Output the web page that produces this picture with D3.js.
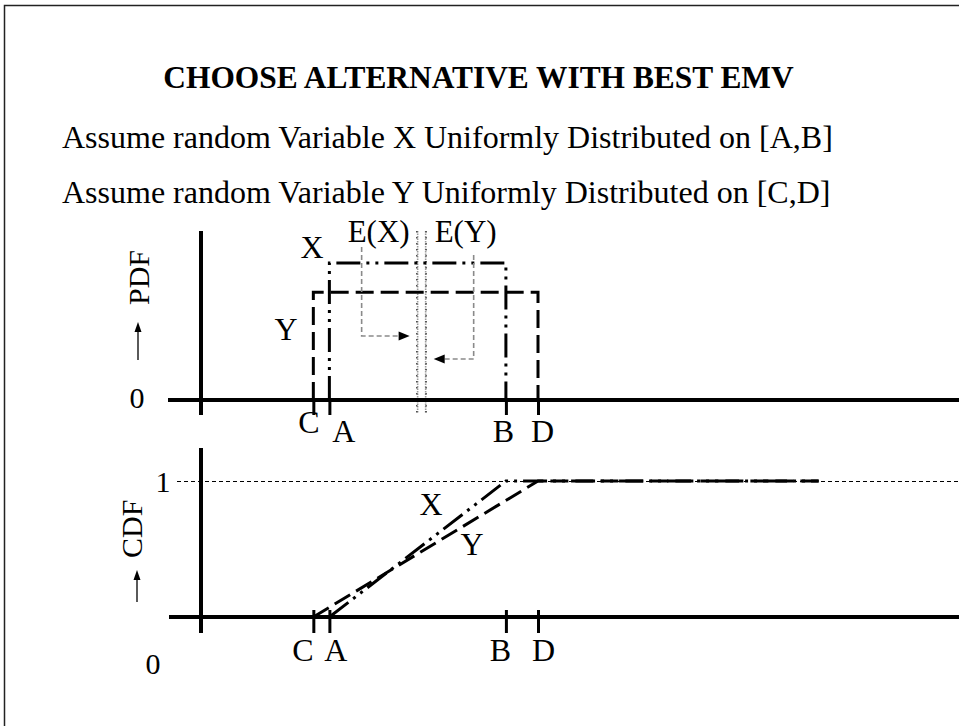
<!DOCTYPE html>
<html>
<head>
<meta charset="utf-8">
<script src="https://cdn.jsdelivr.net/npm/d3@7"></script>
<style>
  html, body { margin: 0; padding: 0; background: #fff; }
  svg { display: block; }
  text { font-family: "Liberation Serif", "Times New Roman", serif; fill: #000; }
</style>
</head>
<body>
<svg id="chart" width="959" height="726"></svg>
<script>
// Uniform alternatives: X on [A,B], Y on [C,D]
const tickNames = ["C", "A", "B", "D"];
const tickValues = [7, 8, 19, 21];
const seriesNames = ["X", "Y"];
const lowerBounds = [8, 7];    // A, C
const upperBounds = [19, 21];  // B, D
const cdfLevels = [0, 1];
const cdfTailEnd = 38.5;       // where the flat CDF tail stops

const titleText = "CHOOSE ALTERNATIVE WITH BEST EMV";
const subtitleLines = [
  "Assume random Variable X Uniformly Distributed on [A,B]",
  "Assume random Variable Y Uniformly Distributed on [C,D]"
];

const W = 959, H = 726;
const svg = d3.select("#chart");

// frame
svg.append("rect")
  .attr("x", 4.5).attr("y", 5.5).attr("width", 1200).attr("height", 1200)
  .attr("fill", "none").attr("stroke", "#222").attr("stroke-width", 1.5);

// heading text
svg.append("text").attr("x", 478.5).attr("y", 88)
  .attr("text-anchor", "middle").attr("font-size", 31.4).attr("font-weight", "bold")
  .text(titleText);
svg.selectAll("text.sub").data(subtitleLines).join("text")
  .attr("class", "sub")
  .attr("x", 62).attr("y", (d, i) => 148 + i * 55)
  .attr("font-size", 32)
  .text(d => d);

// shared horizontal scale
const x = d3.scaleLinear().domain([0, 21]).range([201, 538]);
const axisLeftEnd = x.invert(168);
const axisRightEnd = x.invert(W);

const series = seriesNames.map((name, i) => ({
  name,
  a: lowerBounds[i],
  b: upperBounds[i],
  density: 1 / (upperBounds[i] - lowerBounds[i]),
  mean: (lowerBounds[i] + upperBounds[i]) / 2
}));

const styles = {
  X: { dash: "24,6,3,6,3,6" },
  Y: { dash: "18,7" }
};

// ---------- PDF panel ----------
const yPdf = d3.scaleLinear().domain([0, 0.0909]).range([400, 263]);
const pdf = svg.append("g");

const line = d3.line().x(d => x(d[0])).y(d => d[1]);

// mean markers (E(X), E(Y))
series.forEach((s, i) => {
  const mx = x(s.mean);
  pdf.append("line").attr("x1", mx).attr("x2", mx).attr("y1", 231).attr("y2", 413)
    .attr("stroke", "#9a9a9a").attr("stroke-width", 1.6).attr("stroke-dasharray", "1.5,1");
  pdf.append("line").attr("x1", mx + (i === 0 ? -0.8 : 0.4)).attr("x2", mx + (i === 0 ? -0.8 : 0.4))
    .attr("y1", 231).attr("y2", 413)
    .attr("stroke", "#000").attr("stroke-width", 1).attr("stroke-dasharray", "1.5,4.5");
});

// density rectangles (Y first so X sits on top)
[series[1], series[0]].forEach(s => {
  const pts = [[s.a, yPdf(0)], [s.a, yPdf(s.density)], [s.b, yPdf(s.density)], [s.b, yPdf(0)]];
  pdf.append("path").attr("d", line(pts))
    .attr("fill", "none").attr("stroke", "#000").attr("stroke-width", 3)
    .attr("stroke-dasharray", styles[s.name].dash);
});

// axes of PDF panel
pdf.append("line").attr("x1", x(axisLeftEnd)).attr("x2", x(axisRightEnd))
  .attr("y1", yPdf(0)).attr("y2", yPdf(0)).attr("stroke", "#000").attr("stroke-width", 4);
pdf.append("line").attr("x1", x(0)).attr("x2", x(0))
  .attr("y1", 231).attr("y2", 415).attr("stroke", "#000").attr("stroke-width", 4);

const pdfAxis = pdf.append("g").attr("transform", `translate(0,${yPdf(0)})`)
  .call(d3.axisBottom(x).tickValues(tickValues).tickSize(15)
    .tickFormat((d, i) => tickNames[i]));
pdfAxis.select(".domain").remove();
pdfAxis.selectAll(".tick line").attr("stroke", "#000").attr("stroke-width", 3);
const pdfLabelDx = [-5, 14, -3, 4];
const pdfLabelDy = [-9, 0, 0, 0];
pdfAxis.selectAll(".tick text")
  .attr("font-family", "Liberation Serif, serif").attr("font-size", 32)
  .attr("dy", null)
  .attr("y", (d, i) => 42 + pdfLabelDy[i])
  .attr("x", (d, i) => pdfLabelDx[i]);

// labels
pdf.append("text").attr("x", 137).attr("y", 408).attr("text-anchor", "middle")
  .attr("font-size", 30).text("0");
pdf.append("text").attr("x", 312).attr("y", 258).attr("text-anchor", "middle")
  .attr("font-size", 32).text("X");
pdf.append("text").attr("x", 286).attr("y", 340).attr("text-anchor", "middle")
  .attr("font-size", 32).text("Y");

// E(.) labels and pointers
const meanLabels = ["E(X)", "E(Y)"];
const labelOffset = [-39, 40];
const pointerX = [-56, 48];
const pointerY = [336, 359];
series.forEach((s, i) => {
  const mx = x(s.mean);
  pdf.append("text").attr("x", mx + labelOffset[i]).attr("y", 242)
    .attr("text-anchor", "middle").attr("font-size", 31).text(meanLabels[i]);
  const px = mx + pointerX[i];
  const dir = i === 0 ? 1 : -1;
  const tip = mx - dir * 8;
  const headBase = tip - dir * 11;
  pdf.append("path")
    .attr("d", `M${px},${i === 0 ? 247 : 255}V${pointerY[i]}H${headBase}`)
    .attr("fill", "none").attr("stroke", "#8a8a8a").attr("stroke-width", 1.6)
    .attr("stroke-dasharray", "5,3");
  pdf.append("path")
    .attr("d", `M${tip},${pointerY[i]}L${headBase},${pointerY[i] - 4.5}L${headBase},${pointerY[i] + 4.5}Z`)
    .attr("fill", "#000");
});

// rotated axis title with up arrow
function axisTitle(label, bx, by, ax, aTop, aBottom) {
  svg.append("text").attr("transform", `translate(${bx},${by}) rotate(-90)`)
    .attr("font-size", 30).text(label);
  svg.append("line").attr("x1", ax).attr("x2", ax).attr("y1", aBottom).attr("y2", aTop + 8)
    .attr("stroke", "#000").attr("stroke-width", 1.3);
  svg.append("path").attr("d", `M${ax},${aTop}L${ax - 3.5},${aTop + 10}L${ax + 3.5},${aTop + 10}Z`)
    .attr("fill", "#000");
}
axisTitle("PDF", 149, 305, 138, 322, 360);

// ---------- CDF panel ----------
const yCdf = d3.scaleLinear().domain([0, 1]).range([617, 481]);
const cdf = svg.append("g");

// reference level at 1
cdf.append("line").attr("x1", 177).attr("x2", W)
  .attr("y1", yCdf(1) + 0.5).attr("y2", yCdf(1) + 0.5)
  .attr("stroke", "#000").attr("stroke-width", 1).attr("stroke-dasharray", "4,3")
  .attr("shape-rendering", "crispEdges");

const cdfLine = d3.line().x(d => x(d[0])).y(d => yCdf(d[1]));
[series[1], series[0]].forEach(s => {
  const pts = [[s.a, cdfLevels[0]], [s.b, cdfLevels[1]], [cdfTailEnd, cdfLevels[1]]];
  cdf.append("path").attr("d", cdfLine(pts))
    .attr("fill", "none").attr("stroke", "#000").attr("stroke-width", 3)
    .attr("stroke-dasharray", styles[s.name].dash);
});

cdf.append("line").attr("x1", x(x.invert(169))).attr("x2", x(axisRightEnd))
  .attr("y1", yCdf(0)).attr("y2", yCdf(0)).attr("stroke", "#000").attr("stroke-width", 4);
cdf.append("line").attr("x1", x(0)).attr("x2", x(0))
  .attr("y1", 448).attr("y2", 633).attr("stroke", "#000").attr("stroke-width", 4);

const cdfAxis = cdf.append("g").attr("transform", `translate(0,${yCdf(0)})`)
  .call(d3.axisBottom(x).tickValues(tickValues).tickSize(16)
    .tickFormat((d, i) => tickNames[i]));
cdfAxis.select(".domain").remove();
cdfAxis.selectAll(".tick line").attr("stroke", "#000").attr("stroke-width", 3).attr("y1", -7);
const cdfLabelDx = [-11, 6, -6, 5];
cdfAxis.selectAll(".tick text")
  .attr("font-family", "Liberation Serif, serif").attr("font-size", 32)
  .attr("dy", null).attr("y", 44)
  .attr("x", (d, i) => cdfLabelDx[i]);

cdf.append("text").attr("x", 163).attr("y", 492).attr("text-anchor", "middle")
  .attr("font-size", 30).text("1");
cdf.append("text").attr("x", 153).attr("y", 674).attr("text-anchor", "middle")
  .attr("font-size", 30).text("0");
cdf.append("text").attr("x", 431).attr("y", 515).attr("text-anchor", "middle")
  .attr("font-size", 32).text("X");
cdf.append("text").attr("x", 472).attr("y", 555).attr("text-anchor", "middle")
  .attr("font-size", 32).text("Y");

axisTitle("CDF", 142, 558, 137, 570, 602);
</script>
</body>
</html>
